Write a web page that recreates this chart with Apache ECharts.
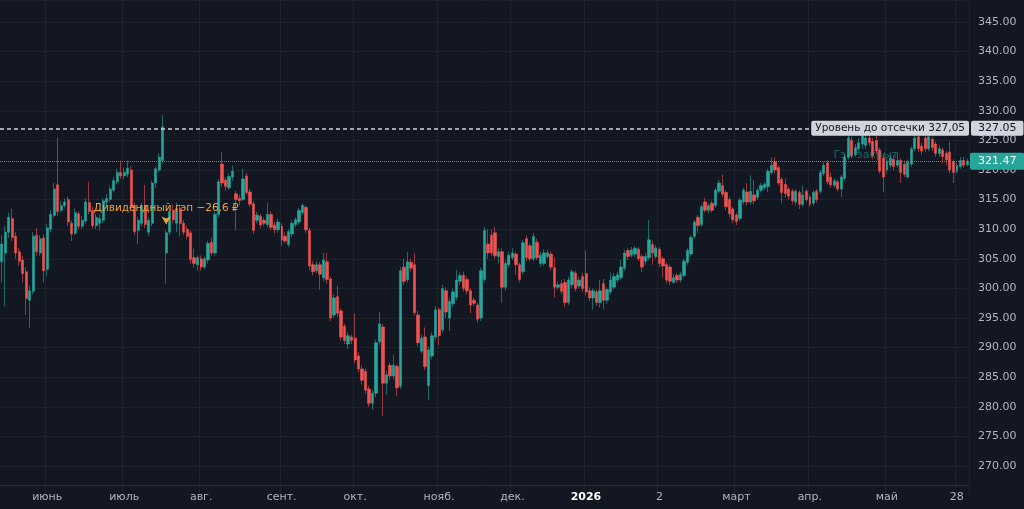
<!DOCTYPE html>
<html>
<head>
<meta charset="utf-8">
<script src="https://cdn.jsdelivr.net/npm/echarts@6/dist/echarts.min.js"></script>
<style>
  html, body { margin: 0; padding: 0; background: #131722; }
  #chart { width: 1024px; height: 509px; }
</style>
</head>
<body>
<div id="chart"></div>
<script>
// свечи: [open, close, low, high]
const ohlc = [
  [304.5, 307.5, 301.0, 309.0], [306.0, 309.5, 297.0, 310.5], [309.5, 312.0, 308.5, 312.8], [311.8, 308.6, 308.0, 313.5],
  [308.8, 306.0, 305.0, 309.5], [306.2, 304.6, 303.8, 306.8], [304.8, 302.5, 301.0, 305.5], [302.8, 298.3, 295.5, 303.5],
  [298.0, 299.6, 293.3, 300.5], [299.5, 308.8, 299.0, 309.5], [309.0, 306.2, 305.5, 310.2], [306.0, 308.4, 305.5, 309.0],
  [308.5, 303.0, 301.0, 309.2], [303.2, 310.2, 302.0, 310.8], [310.0, 312.5, 309.5, 313.2], [312.3, 316.8, 312.0, 317.8],
  [317.5, 313.0, 312.3, 325.5], [313.2, 314.0, 312.8, 314.8], [314.0, 314.6, 313.5, 315.2], [315.0, 311.2, 310.5, 315.5],
  [311.0, 309.2, 308.0, 311.5], [309.3, 312.8, 309.0, 313.5], [312.6, 310.5, 310.0, 313.0], [310.5, 311.5, 310.0, 312.2],
  [311.4, 314.6, 311.0, 315.2], [314.5, 313.0, 312.5, 318.0], [313.2, 310.6, 310.2, 313.8], [310.6, 312.0, 310.0, 312.6],
  [311.0, 311.8, 309.8, 312.5],
  // июль
  [311.5, 314.8, 311.0, 315.2], [314.6, 315.2, 314.0, 316.0], [315.0, 316.8, 314.6, 317.2], [316.6, 318.2, 316.2, 318.8],
  [318.0, 319.6, 317.6, 320.2], [319.6, 319.0, 318.5, 321.6], [319.0, 319.6, 318.4, 320.4], [319.3, 320.3, 318.8, 321.6],
  [320.0, 313.8, 313.0, 320.6], [314.0, 309.6, 309.0, 314.5], [309.8, 311.5, 307.5, 312.0], [311.0, 314.0, 310.5, 314.5],
  [314.0, 310.8, 310.2, 317.5], [309.5, 311.5, 308.8, 312.0], [311.0, 317.8, 310.5, 318.2], [317.8, 320.2, 317.0, 320.6],
  [320.0, 322.2, 319.6, 322.8], [321.6, 327.3, 321.2, 329.3], [306.0, 309.4, 300.8, 309.8], [309.5, 313.0, 309.0, 313.5],
  [313.2, 311.6, 311.0, 314.2], [311.0, 313.5, 309.5, 314.5], [313.5, 311.0, 308.8, 314.0], [311.0, 309.5, 309.0, 311.5],
  [310.0, 308.8, 308.3, 310.6],
  // август
  [309.4, 304.9, 304.2, 309.8], [305.2, 304.2, 303.5, 306.8], [304.0, 305.2, 303.0, 305.6], [305.0, 303.6, 303.0, 305.6],
  [303.6, 305.0, 303.2, 305.4], [304.8, 307.6, 304.2, 308.0], [307.8, 306.0, 305.5, 308.6], [306.0, 312.5, 305.5, 313.0],
  [312.5, 318.0, 312.0, 318.5], [321.0, 317.8, 317.2, 323.0], [318.3, 317.2, 316.5, 318.8], [317.0, 318.9, 316.6, 319.4],
  [318.8, 319.8, 318.2, 320.7], [316.0, 315.0, 309.8, 316.5], [315.2, 314.8, 314.0, 315.8], [315.0, 318.5, 314.8, 320.2],
  [319.0, 316.2, 315.8, 319.6], [316.3, 314.2, 313.8, 316.8], [314.3, 309.8, 309.2, 314.7], [311.5, 312.4, 311.0, 313.0],
  [312.2, 310.7, 310.2, 312.6], [311.5, 311.0, 310.5, 312.0], [310.8, 312.5, 310.3, 314.4], [312.5, 310.3, 309.8, 313.0],
  [310.7, 309.9, 309.3, 311.2], [309.9, 311.2, 309.4, 311.8], [310.5, 308.2, 307.2, 311.0], [308.8, 308.0, 307.6, 309.5],
  [307.4, 309.6, 307.0, 310.0],
  // сентябрь
  [309.2, 311.0, 308.7, 311.5], [310.8, 311.6, 310.3, 312.0], [311.2, 313.2, 310.8, 313.6], [312.8, 314.0, 312.4, 314.4],
  [313.7, 309.9, 309.4, 314.0], [309.8, 303.8, 303.0, 310.2], [304.0, 302.8, 302.2, 304.6], [303.0, 304.0, 302.6, 304.6],
  [304.0, 302.4, 299.8, 304.5], [301.8, 304.8, 301.2, 306.0], [304.5, 301.5, 300.8, 306.0], [301.6, 295.0, 294.5, 302.0],
  [295.5, 298.4, 295.0, 299.0], [298.6, 295.8, 295.2, 300.4], [296.2, 291.8, 291.2, 296.6], [293.6, 291.2, 290.6, 294.0],
  [290.6, 292.0, 289.8, 292.6], [291.8, 291.2, 290.6, 292.2], [291.6, 287.9, 287.4, 295.8], [288.6, 286.4, 285.8, 289.2],
  [286.4, 284.5, 283.8, 287.0], [286.0, 282.8, 282.2, 286.5], [283.0, 280.6, 280.0, 283.5], [280.6, 282.3, 279.5, 282.8],
  [282.3, 290.8, 281.6, 291.3], [291.0, 294.0, 290.4, 296.0], [293.5, 284.0, 278.4, 294.0],
  // октябрь
  [284.0, 285.4, 282.0, 286.0], [287.0, 285.2, 284.6, 287.5], [285.2, 287.0, 284.6, 288.8], [286.8, 283.2, 281.8, 287.2],
  [283.5, 303.0, 283.0, 303.6], [303.6, 301.2, 300.6, 305.0], [301.5, 304.5, 301.0, 306.2], [304.4, 303.4, 302.8, 305.0],
  [304.0, 295.9, 295.4, 306.0], [295.5, 290.8, 290.2, 296.2], [289.4, 291.6, 289.0, 292.2], [291.8, 286.8, 286.2, 293.4],
  [283.6, 289.6, 281.1, 290.2], [288.6, 292.0, 288.0, 292.6], [291.8, 296.4, 291.2, 297.0], [296.4, 292.0, 290.4, 296.8],
  [293.0, 300.0, 292.5, 300.6], [299.6, 296.0, 295.0, 300.2], [295.0, 297.8, 292.8, 298.4], [297.4, 299.4, 296.8, 300.0],
  [298.5, 301.4, 298.0, 303.1], [301.2, 302.2, 300.6, 302.7], [302.2, 300.0, 299.5, 302.8], [301.5, 299.6, 299.0, 302.0],
  [299.6, 297.2, 295.8, 300.0], [298.0, 297.5, 297.0, 298.5], [297.2, 294.8, 294.2, 297.6],
  // ноябрь
  [295.0, 303.0, 294.5, 303.5], [301.5, 309.8, 301.0, 310.4], [307.5, 306.0, 305.0, 310.0], [309.0, 306.0, 305.5, 310.0],
  [309.4, 305.5, 305.0, 310.4], [305.4, 306.2, 304.2, 306.8], [306.2, 300.2, 297.6, 306.8], [300.2, 304.2, 299.6, 304.8],
  [304.0, 305.6, 303.5, 306.2], [305.2, 306.0, 304.8, 306.8], [305.8, 304.0, 302.3, 306.2], [304.0, 301.5, 301.0, 304.4],
  [302.8, 307.7, 302.4, 308.2], [308.4, 305.2, 304.6, 309.0], [307.2, 305.0, 304.6, 307.6], [305.0, 308.8, 304.6, 309.4],
  [307.8, 305.2, 304.8, 308.4], [304.2, 305.6, 303.6, 306.2], [304.2, 306.0, 303.8, 306.6], [305.4, 306.0, 305.0, 306.5],
  [305.8, 303.6, 303.0, 306.2], [303.5, 300.2, 298.5, 305.2], [300.2, 300.6, 299.8, 301.2], [300.8, 299.5, 299.0, 301.4],
  [301.0, 297.6, 296.8, 301.6], [297.6, 301.4, 297.2, 302.0], [300.6, 302.8, 300.0, 303.2],
  // декабрь
  [302.6, 300.0, 299.5, 303.0], [300.4, 301.4, 300.0, 302.0], [302.0, 300.0, 299.4, 302.6], [302.5, 299.4, 298.8, 306.4],
  [299.6, 298.4, 297.8, 300.2], [298.4, 299.6, 296.4, 300.0], [299.4, 297.6, 297.0, 299.8], [297.6, 299.6, 296.8, 301.4],
  [300.8, 298.0, 296.5, 301.6], [298.0, 299.8, 297.4, 300.2], [299.4, 301.4, 299.0, 302.7], [300.2, 302.0, 299.8, 302.6],
  [301.4, 302.3, 301.0, 302.8], [301.8, 303.6, 301.4, 304.8], [303.4, 306.0, 303.0, 306.5], [306.4, 305.4, 304.8, 306.8],
  [305.6, 306.5, 305.2, 307.0], [305.8, 306.8, 305.3, 307.2], [306.6, 305.0, 304.6, 307.0], [305.4, 303.6, 302.8, 305.8],
  [304.6, 305.4, 304.0, 306.0], [305.2, 308.2, 304.8, 311.6], [307.4, 306.0, 304.0, 308.0], [305.4, 306.8, 305.0, 307.4],
  [306.6, 304.2, 303.6, 307.0], [305.0, 303.8, 301.8, 305.4], [304.0, 301.4, 300.8, 304.4],
  // январь — март
  [303.6, 301.2, 300.6, 304.0], [301.0, 301.8, 300.8, 302.4], [302.2, 301.4, 300.9, 302.6], [301.4, 302.3, 301.0, 302.8],
  [302.2, 304.6, 301.8, 305.0], [304.4, 306.4, 304.0, 306.8], [305.8, 308.6, 305.4, 309.0], [308.8, 311.2, 308.4, 311.6],
  [312.0, 310.6, 309.4, 312.4], [310.8, 313.8, 310.4, 314.2], [314.6, 313.2, 312.8, 315.3], [313.2, 314.0, 312.6, 314.4],
  [314.4, 313.2, 312.8, 314.8], [314.0, 316.6, 313.6, 317.0], [316.4, 317.8, 316.0, 318.4], [317.4, 315.9, 315.4, 319.2],
  [316.2, 313.8, 313.2, 316.6], [315.0, 312.6, 312.0, 315.4], [313.4, 311.6, 311.0, 313.8], [312.4, 311.3, 310.7, 312.8],
  [311.8, 314.9, 311.4, 315.3], [314.6, 316.6, 314.2, 317.0], [316.3, 314.6, 314.0, 317.8], [314.6, 316.4, 314.2, 319.1],
  [315.8, 314.8, 314.2, 318.3], [315.4, 316.6, 315.0, 317.0], [316.6, 317.4, 316.2, 317.8], [317.0, 317.6, 316.6, 318.0],
  // март — апрель
  [317.2, 319.8, 316.3, 320.2], [319.6, 320.8, 319.2, 322.1], [321.4, 320.0, 319.4, 322.2], [320.4, 317.8, 317.4, 320.8],
  [318.4, 316.2, 314.4, 318.8], [317.6, 316.0, 315.4, 318.6], [316.8, 315.6, 315.0, 317.2], [316.4, 314.8, 314.2, 316.8],
  [314.6, 316.4, 314.0, 316.8], [316.2, 314.2, 313.4, 316.6], [314.2, 315.8, 313.8, 317.4], [316.4, 315.0, 314.6, 316.8],
  [315.4, 314.2, 313.8, 315.8], [314.4, 316.2, 314.0, 316.6], [316.4, 315.0, 314.5, 316.8], [316.4, 319.6, 316.0, 320.0],
  [319.4, 320.8, 319.0, 321.4], [321.2, 318.0, 317.6, 321.6], [318.8, 317.5, 317.0, 319.6], [317.4, 318.2, 317.0, 318.6],
  [318.0, 316.8, 316.4, 318.4], [316.8, 318.8, 315.4, 319.2], [318.6, 322.2, 318.2, 322.6], [322.2, 325.4, 321.8, 326.0],
  [325.0, 322.4, 322.0, 325.6], [322.6, 323.8, 322.2, 324.4], [323.6, 324.6, 323.2, 325.4],
  // май
  [324.4, 325.8, 323.6, 326.6], [324.2, 325.4, 323.6, 326.4], [325.4, 324.6, 324.0, 326.5], [324.8, 322.4, 321.8, 325.4],
  [325.0, 323.2, 322.6, 325.8], [323.4, 319.8, 319.4, 323.8], [322.0, 318.8, 316.3, 322.6], [320.0, 321.5, 319.4, 322.0],
  [320.8, 322.0, 320.4, 322.6], [321.8, 320.6, 320.0, 322.4], [320.8, 321.6, 320.4, 322.9], [321.6, 319.6, 317.8, 322.0],
  [321.0, 319.3, 318.8, 321.6], [318.8, 321.3, 318.6, 321.8], [321.0, 323.6, 320.6, 324.0], [323.6, 325.4, 323.2, 326.4],
  [325.6, 323.6, 323.0, 326.2], [324.0, 323.2, 322.6, 324.6], [325.4, 323.6, 323.0, 327.3], [323.6, 325.6, 323.2, 326.2],
  [325.2, 323.8, 323.2, 325.6], [324.4, 322.8, 322.2, 324.8], [322.8, 323.6, 322.2, 324.2], [323.4, 322.3, 321.2, 323.8],
  [322.8, 321.7, 320.8, 323.2], [323.0, 320.0, 319.4, 324.8], [321.4, 319.6, 317.8, 321.8], [319.8, 320.8, 319.4, 321.2],
  [320.6, 321.6, 320.2, 322.2], [321.6, 320.8, 320.4, 322.2], [320.9, 321.47, 320.6, 321.9]
]

const days = ohlc.map((_, i) => String(i))

// подписи шкалы времени: номер свечи и текст
const tickIndex = [13, 35, 57, 80, 101, 125, 146, 167, 188, 210, 231, 253, 273]
const tickText = ['июнь', 'июль', 'авг.', 'сент.', 'окт.', 'нояб.', 'дек.', '2026', '2', 'март', 'апр.', 'май', '28']

const cutoffLevel = 327.05
const lastPrice = 321.47
const gapIndex = 47
const gapArrowPrice = 310.8
const gapClosedIndex = 247

const bg = '#131722'
const up = '#26a69a'
const down = '#ef5350'
const gridColor = '#1e222d'
const textColor = '#b2b5be'
const font = 'DejaVu Sans'
const clear = 'rgba(0,0,0,0)'

const tickMap = {}
tickIndex.forEach((idx, k) => { tickMap[idx] = tickText[k] })

// линии сетки по цене: первую (265) прячем под шкалой времени
const yLineColors = [...Array(18)].map((_, k) => (k === 0 ? clear : gridColor))

const chart = echarts.init(document.getElementById('chart'), null, { renderer: 'canvas' })

const option = {
  backgroundColor: bg,
  animation: false,
  grid: { left: 0, right: 55, top: 0, bottom: 13.4 },
  xAxis: {
    type: 'category',
    data: days,
    boundaryGap: true,
    offset: -10.6,
    z: 5,
    axisLine: { show: true, lineStyle: { color: '#2a2e39' } },
    axisTick: { show: false },
    axisLabel: {
      interval: (i) => tickMap[i] !== undefined,
      formatter: (v, i) => (tickMap[i] === '2026' ? '{b|2026}' : tickMap[i]),
      color: textColor,
      fontFamily: font,
      fontSize: 11,
      margin: 7,
      rich: { b: { color: '#ffffff', fontWeight: 'bold', fontFamily: font, fontSize: 11 } }
    },
    splitLine: {
      show: true,
      interval: (i) => tickMap[i] !== undefined,
      lineStyle: { color: gridColor, width: 1 }
    }
  },
  yAxis: {
    type: 'value',
    position: 'right',
    // верх окна ≈ 348.7, шаг 5 считается от 265
    min: 265,
    max: 348.72,
    interval: 5,
    axisLine: { show: true, lineStyle: { color: '#2a2e39' } },
    axisTick: { show: false },
    axisLabel: {
      showMinLabel: false,
      showMaxLabel: false,
      formatter: (v) => v.toFixed(2),
      color: textColor,
      fontFamily: font,
      fontSize: 11,
      margin: 9
    },
    splitLine: { show: true, lineStyle: { color: yLineColors, width: 1 } }
  },
  series: [
    {
      type: 'candlestick',
      data: ohlc,
      barWidth: 2.8,
      clip: false,
      itemStyle: {
        color: up,
        color0: down,
        borderColor: up,
        borderColor0: down,
        borderWidth: 0.6
      },
      markLine: {
        silent: true,
        symbol: ['none', 'none'],
        lineStyle: { color: up, type: 'dotted', width: 1 },
        data: [
          {
            yAxis: cutoffLevel,
            lineStyle: { type: [4, 3], color: '#d1d4dc', width: 1.5 },
            label: {
              show: true,
              position: 'insideEnd',
              distance: 0,
              formatter: 'Уровень до отсечки 327,05',
              backgroundColor: '#d1d4dc',
              color: '#131722',
              fontFamily: font,
              fontSize: 10.5,
              padding: [2, 4, 2, 4],
              borderRadius: 2
            }
          },
          {
            yAxis: cutoffLevel,
            lineStyle: { color: clear, width: 0.01 },
            label: {
              show: true,
              position: 'end',
              distance: 2,
              formatter: '327.05',
              backgroundColor: '#d1d4dc',
              color: '#131722',
              fontFamily: font,
              fontSize: 11,
              padding: [2, 7, 2, 7],
              borderRadius: 2
            }
          },
          {
            yAxis: lastPrice,
            lineStyle: { type: 'dotted', color: '#1fa596', width: 1 },
            label: {
              show: true,
              position: 'end',
              distance: 1,
              formatter: '321.47',
              backgroundColor: up,
              color: '#ffffff',
              fontFamily: font,
              fontSize: 11,
              padding: [3, 8, 3, 8],
              borderRadius: 2
            }
          }
        ]
      },
      markPoint: {
        silent: true,
        data: [
          {
            coord: [String(gapIndex), gapArrowPrice],
            symbol: 'arrow',
            symbolRotate: 180,
            symbolSize: [7, 8],
            itemStyle: { color: '#f0a33a' },
            label: {
              show: true,
              position: 'top',
              distance: 3,
              formatter: 'Дивидендный гэп −26,6 ₽',
              color: '#f0a33a',
              fontFamily: font,
              fontSize: 10.5
            }
          },
          {
            coord: [String(gapClosedIndex), lastPrice],
            symbol: 'circle',
            symbolSize: 0,
            itemStyle: { color: clear },
            label: {
              show: true,
              position: 'top',
              distance: 1,
              formatter: 'Гэп закрыт',
              color: 'rgba(38,166,154,0.55)',
              fontFamily: font,
              fontSize: 11
            }
          }
        ]
      }
    }
  ]
}

chart.setOption(option)
</script>
</body>
</html>
